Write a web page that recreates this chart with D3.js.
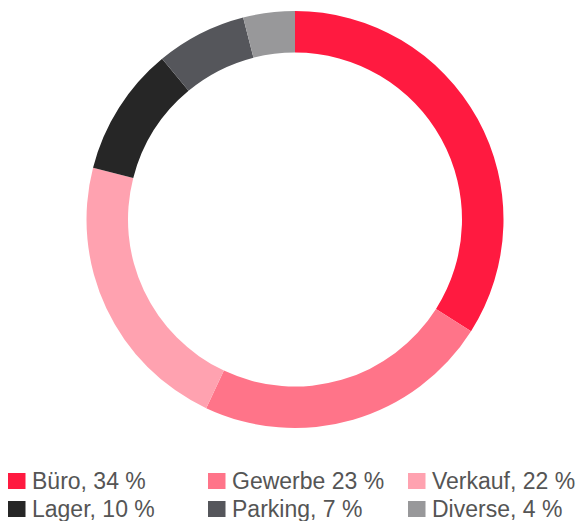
<!DOCTYPE html>
<html><head><meta charset="utf-8">
<script src="https://cdn.jsdelivr.net/npm/d3@7"></script>
<style>html,body{margin:0;padding:0;background:#fff;}svg{display:block;}</style>
</head><body>
<svg id="chart" width="576" height="521"></svg>
<script>
const categories = ["Büro", "Gewerbe", "Verkauf", "Lager", "Parking", "Diverse"];
const values = [34, 23, 22, 10, 7, 4];
const legendLabels = ["Büro, 34 %", "Gewerbe 23 %", "Verkauf, 22 %", "Lager, 10 %", "Parking, 7 %", "Diverse, 4 %"];
const colors = ["#ff1a40", "#ff7489", "#ffa2b0", "#262626", "#55565b", "#98989a"];

const svg = d3.select("#chart");
const cx = 295, cy = 219.5, rOuter = 208.5, rInner = 167;

const pie = d3.pie().sort(null).value(d => d.v);
const arc = d3.arc().innerRadius(rInner).outerRadius(rOuter);
const data = categories.map((c, i) => ({c, v: values[i], col: colors[i]}));

svg.append("g").attr("transform", `translate(${cx},${cy})`)
  .selectAll("path").data(pie(data)).join("path")
  .attr("d", arc).attr("fill", d => d.data.col);

const lg = svg.append("g");
const items = lg.selectAll("g").data(data).join("g")
  .attr("transform", (d, i) => `translate(${8 + (i % 3) * 200},${473 + Math.floor(i / 3) * 28})`);
items.append("rect").attr("width", 17.5).attr("height", 16).attr("fill", d => d.col);
items.append("text").attr("x", 24).attr("y", 15.5)
  .attr("font-family", "Liberation Sans, Arial, sans-serif").attr("font-size", 23)
  .attr("fill", "#555").text((d, i) => legendLabels[i]);
</script>
</body></html>
